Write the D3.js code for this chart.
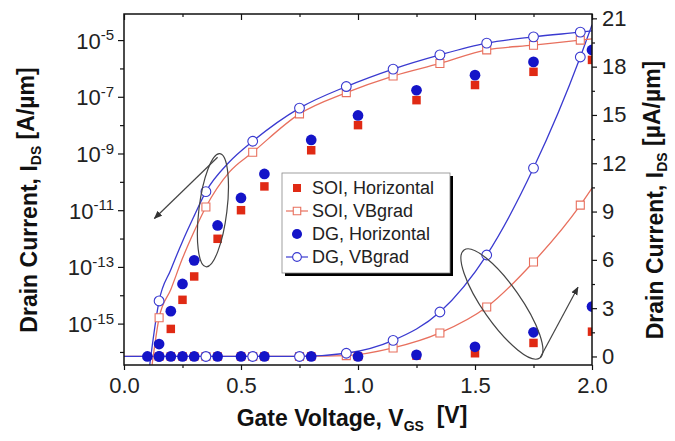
<!DOCTYPE html>
<html>
<head>
<meta charset="utf-8">
<script src="https://cdn.jsdelivr.net/npm/d3@7"></script>
<style>
  body { margin: 0; background: #fff; }
  svg { display: block; font-family: Arial, "Liberation Sans", sans-serif; }
</style>
</head>
<body>
<script>
// gate voltages of the "Horizontal" (symbols only) sweeps
var vSolid = [0.15, 0.2, 0.25, 0.3, 0.4, 0.5, 0.6, 0.8, 1.0, 1.25, 1.5, 1.75, 2.0];
var dgHorizLog  = [1.9e-16, 2.75e-15, 2.5e-14, 1.7e-13, 2.9e-12, 2.7e-11, 1.9e-10, 3.0e-9, 2.2e-8, 1.7e-7, 5.8e-7, 1.7e-6, 4.5e-6];
var soiHorizLog = [null, 6.5e-16, 6.9e-15, 4.6e-14, 9.8e-13, 1.0e-11, 6.9e-11, 1.3e-9, 1.0e-8, 7.6e-8, 2.6e-7, 7.6e-7, 2.0e-6];

// same sweeps on the linear (right) axis, uA/um
var vSolidLin = [0.1, 0.15, 0.2, 0.25, 0.3, 0.4, 0.5, 0.6, 0.8, 1.0, 1.25, 1.5, 1.75, 2.0];
var dgHorizLin  = [0, 0, 0, 0, 0, 0, 0, 0, 0, 0, 0.1, 0.6, 1.5, 3.1];
var soiHorizLin = [null, null, 0, 0, 0, 0, 0, 0, 0, 0, 0.05, 0.2, 0.84, 1.54];

// VBgrad curves, log axis
var vDgGrad  = [0.11, 0.15, 0.2, 0.25, 0.3, 0.35, 0.45, 0.55, 0.75, 0.95, 1.15, 1.35, 1.55, 1.75, 1.95, 2.0];
var dgGradLog  = [3.5e-17, 6.3e-15, 7.9e-14, 7.9e-13, 6.3e-12, 4.5e-11, 5.0e-10, 2.7e-9, 4.0e-8, 2.3e-7, 9.5e-7, 3.0e-6, 7.8e-6, 1.3e-5, 1.9e-5, 2.1e-5];
var vSoiGrad = [0.12, 0.15, 0.2, 0.25, 0.3, 0.35, 0.45, 0.55, 0.75, 0.95, 1.15, 1.35, 1.55, 1.75, 1.95, 2.0];
var soiGradLog = [3.5e-17, 1.6e-15, 1.6e-14, 2.0e-13, 1.8e-12, 1.3e-11, 2.2e-10, 1.1e-9, 2.5e-8, 1.4e-7, 5.4e-7, 1.5e-6, 4.5e-6, 6.6e-6, 1.0e-5, 1.1e-5];

// VBgrad curves, linear axis
var vGradLin = [0, 0.15, 0.35, 0.55, 0.75, 0.95, 1.15, 1.35, 1.55, 1.75, 1.95, 2.0];
var dgGradLin  = [0, 0, 0, 0, 0, 0.2, 1.0, 2.76, 6.3, 11.7, 18.6, 20.6];
var soiGradLin = [0, 0, 0, 0, 0, 0.05, 0.53, 1.46, 3.07, 5.87, 9.4, 10.46];

// voltages where the VBgrad curves carry an open symbol
var vGradMarks = [0.15, 0.35, 0.55, 0.75, 0.95, 1.15, 1.35, 1.55, 1.75, 1.95];

var xTicks = [0, 0.5, 1.0, 1.5, 2.0];
var leftDecades = d3.range(-16, -4);          // every decade gets a tick
var rightTicks = [0, 3, 6, 9, 12, 15, 18, 21];

var legendItems = ["SOI, Horizontal", "SOI, VBgrad", "DG, Horizontal", "DG, VBgrad"];

var RED = "#e02a14", BLUE = "#1414c8", RED_LINE = "#e8705e", BLUE_LINE = "#3a3ad0";

var W = 675, H = 441;
var margin = { top: 14, right: 83, bottom: 76, left: 124 };
var width = W - margin.left - margin.right,
    height = H - margin.top - margin.bottom;

var svg = d3.select("body").append("svg")
  .attr("width", W).attr("height", H);

var defs = svg.append("defs");
defs.append("clipPath").attr("id", "plot")
  .append("rect").attr("width", width).attr("height", height);
defs.append("marker").attr("id", "arrow")
  .attr("viewBox", "0 0 10 10").attr("refX", 9).attr("refY", 5)
  .attr("markerWidth", 7).attr("markerHeight", 7).attr("orient", "auto")
  .append("path").attr("d", "M0,1 L10,5 L0,9 z").attr("fill", "#333");

var g = svg.append("g").attr("transform", "translate(" + margin.left + "," + margin.top + ")");

var x = d3.scaleLinear().domain([0, 2]).range([0, width]);
var yL = d3.scaleLog().domain([Math.pow(10, -16.46), Math.pow(10, -4.08)]).range([height, 0]);
var yR = d3.scaleLinear().domain([-0.53, 21.27]).range([height, 0]);

function pairs(xs, ys) {
  return xs.map(function (v, i) { return { v: v, y: ys[i] }; })
    .filter(function (d) { return d.y !== null; });
}

var plot = g.append("g").attr("clip-path", "url(#plot)");

function drawCurve(xs, ys, scale, color) {
  var line = d3.line()
    .x(function (d) { return x(d.v); })
    .y(function (d) { return scale(d.y); })
    .curve(d3.curveMonotoneX);
  plot.append("path").datum(pairs(xs, ys))
    .attr("d", line).attr("fill", "none")
    .attr("stroke", color).attr("stroke-width", 1.3);
}

function drawOpen(xs, ys, scale, color, shape) {
  var pts = pairs(xs, ys).filter(function (d) { return vGradMarks.indexOf(d.v) >= 0; });
  var sym = d3.symbol().type(shape === "square" ? d3.symbolSquare : d3.symbolCircle)
    .size(shape === "square" ? 64 : 75);
  plot.selectAll(null).data(pts).enter().append("path")
    .attr("d", sym)
    .attr("transform", function (d) { return "translate(" + x(d.v) + "," + scale(d.y) + ")"; })
    .attr("fill", "#fff").attr("stroke", color).attr("stroke-width", 1.1);
}

function drawSolid(xs, ys, scale, color, shape) {
  var sym = d3.symbol().type(shape === "square" ? d3.symbolSquare : d3.symbolCircle)
    .size(shape === "square" ? 72 : 90);
  plot.selectAll(null).data(pairs(xs, ys)).enter().append("path")
    .attr("d", sym)
    .attr("transform", function (d) { return "translate(" + x(d.v) + "," + scale(d.y) + ")"; })
    .attr("fill", color);
}

// VBgrad lines and open symbols
drawCurve(vGradLin, soiGradLin, yR, RED_LINE);
drawCurve(vGradLin, dgGradLin, yR, BLUE_LINE);
drawCurve(vSoiGrad, soiGradLog, yL, RED_LINE);
drawCurve(vDgGrad, dgGradLog, yL, BLUE_LINE);
drawOpen(vGradLin, soiGradLin, yR, RED_LINE, "square");
drawOpen(vGradLin, dgGradLin, yR, BLUE_LINE, "circle");
drawOpen(vSoiGrad, soiGradLog, yL, RED_LINE, "square");
drawOpen(vDgGrad, dgGradLog, yL, BLUE_LINE, "circle");

// Horizontal symbols
drawSolid(vSolidLin, soiHorizLin, yR, RED, "square");
drawSolid(vSolidLin, dgHorizLin, yR, BLUE, "circle");
drawSolid(vSolid, soiHorizLog, yL, RED, "square");
drawSolid(vSolid, dgHorizLog, yL, BLUE, "circle");

// annotation ellipses + arrows
var ann = g.append("g").attr("fill", "none").attr("stroke", "#444").attr("stroke-width", 1.2);
ann.append("ellipse")
  .attr("transform", "translate(" + x(0.38) + "," + yL(1e-11) + ") rotate(7)")
  .attr("rx", 14).attr("ry", 57);
ann.append("line")
  .attr("x1", x(0.40)).attr("y1", yL(7.4e-10))
  .attr("x2", x(0.13)).attr("y2", yL(5.1e-12))
  .attr("marker-end", "url(#arrow)");
ann.append("ellipse")
  .attr("transform", "translate(" + x(1.615) + "," + yR(3.26) + ") rotate(-35)")
  .attr("rx", 19).attr("ry", 66);
ann.append("line")
  .attr("x1", x(1.78)).attr("y1", yR(-0.03))
  .attr("x2", x(1.94)).attr("y2", yR(4.3))
  .attr("marker-end", "url(#arrow)");

// frame
g.append("rect").attr("width", width).attr("height", height)
  .attr("fill", "none").attr("stroke", "#111").attr("stroke-width", 1.5);

// bottom axis
var xAxis = g.append("g").attr("transform", "translate(0," + height + ")")
  .call(d3.axisBottom(x).tickValues(xTicks).tickFormat(d3.format(".1f")).tickSize(5).tickSizeOuter(0).tickPadding(7));
g.append("g").attr("transform", "translate(0," + height + ")")
  .call(d3.axisBottom(x).tickValues([0.25, 0.75, 1.25, 1.75]).tickFormat("").tickSize(3).tickSizeOuter(0));
// top axis, ticks pointing in
g.append("g").call(d3.axisTop(x).tickValues(xTicks).tickFormat("").tickSize(-6).tickSizeOuter(0));
g.append("g").call(d3.axisTop(x).tickValues([0.25, 0.75, 1.25, 1.75]).tickFormat("").tickSize(-3).tickSizeOuter(0));

// left log axis
var leftAxis = g.append("g")
  .call(d3.axisLeft(yL).tickValues(leftDecades.map(function (e) { return Math.pow(10, e); }))
    .tickFormat("").tickSizeOuter(0));
leftAxis.selectAll(".tick line").attr("x2", function (d) {
  var e = Math.round(Math.log10(d));
  return Math.abs(e) % 2 === 1 ? -6 : -4;
});
leftAxis.selectAll(".tick").each(function (d) {
  var e = Math.round(Math.log10(d));
  if (Math.abs(e) % 2 !== 1) return;
  var t = d3.select(this).append("text")
    .attr("x", -10).attr("dy", "0.36em")
    .attr("text-anchor", "end").attr("fill", "#222")
    .style("font-size", "22px");
  t.append("tspan").text("10");
  t.append("tspan").attr("dy", "-0.55em").style("font-size", "15px").text(String(e));
});

// right linear axis
var rightAxis = g.append("g").attr("transform", "translate(" + width + ",0)")
  .call(d3.axisRight(yR).tickValues(rightTicks).tickSize(5).tickSizeOuter(0).tickPadding(5));
g.append("g").attr("transform", "translate(" + width + ",0)")
  .call(d3.axisRight(yR).tickValues(rightTicks.slice(0, -1).map(function (t) { return t + 1.5; }))
    .tickFormat("").tickSize(3).tickSizeOuter(0));

svg.selectAll(".domain").remove();
svg.selectAll(".tick line").attr("stroke", "#111").attr("stroke-width", 1.2);
xAxis.selectAll("text").style("font-size", "22px").attr("fill", "#222");
rightAxis.selectAll("text").style("font-size", "22px").attr("fill", "#222");

// axis titles
var xt = svg.append("text")
  .attr("x", 352).attr("y", 426)
  .attr("text-anchor", "middle").style("font-size", "23px").style("font-weight", "bold").attr("fill", "#111");
xt.append("tspan").text("Gate Voltage, V");
xt.append("tspan").attr("dy", "0.35em").style("font-size", "14px").text("GS");
xt.append("tspan").attr("dy", "-0.35em").text("\u00a0\u00a0[V]");

function yTitle(cx, unit) {
  var t = svg.append("text")
    .attr("transform", "translate(" + cx + ",200) rotate(-90)")
    .attr("text-anchor", "middle").attr("dy", "0.35em")
    .style("font-size", "23px").style("font-weight", "bold").attr("fill", "#111");
  t.append("tspan").text("Drain Current, I");
  t.append("tspan").attr("dy", "0.3em").style("font-size", "14px").text("DS");
  t.append("tspan").attr("dy", "-0.3em").text(" [" + unit + "]");
}
yTitle(29, "A/\u00b5m");
yTitle(655, "\u00b5A/\u00b5m");

// legend
var lg = g.append("g").attr("transform", "translate(" + (282 - margin.left) + "," + (173 - margin.top) + ")");
lg.append("rect").attr("x", 3).attr("y", 3).attr("width", 168).attr("height", 100).attr("fill", "#000");
lg.append("rect").attr("width", 168).attr("height", 100).attr("fill", "#fff")
  .attr("stroke", "#888").attr("stroke-width", 0.8);
var rows = lg.selectAll(".row").data(legendItems).enter().append("g")
  .attr("transform", function (d, i) { return "translate(0," + (15 + i * 23) + ")"; });
rows.each(function (d, i) {
  var r = d3.select(this);
  var isSoi = i < 2, isGrad = i % 2 === 1;
  var col = isSoi ? (isGrad ? RED_LINE : RED) : (isGrad ? BLUE_LINE : BLUE);
  var sym = d3.symbol().type(isSoi ? d3.symbolSquare : d3.symbolCircle)
    .size(isGrad ? (isSoi ? 56 : 60) : (isSoi ? 64 : 80));
  if (isGrad) {
    r.append("line").attr("x1", 4).attr("x2", 26).attr("stroke", col).attr("stroke-width", 1.2);
  }
  r.append("path").attr("d", sym).attr("transform", "translate(15,0)")
    .attr("fill", isGrad ? "#fff" : col).attr("stroke", isGrad ? col : "none").attr("stroke-width", 1.1);
  r.append("text").attr("x", 30).attr("dy", "0.35em")
    .style("font-size", "18px").attr("fill", "#222").text(d);
});
</script>
</body>
</html>
